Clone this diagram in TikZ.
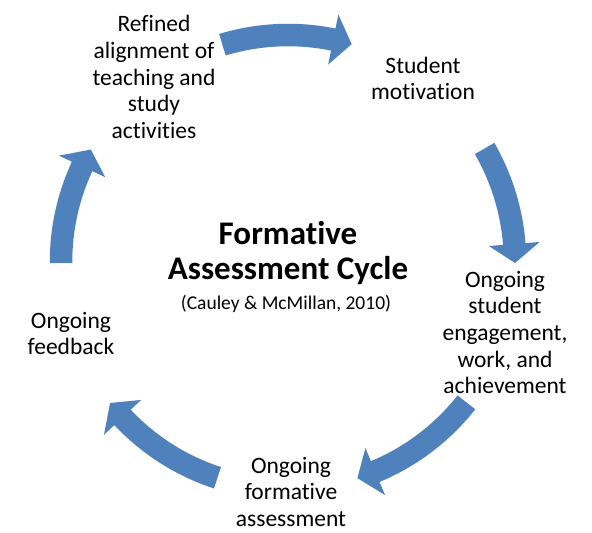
\documentclass[tikz,border=0pt]{standalone}
\usepackage{fontspec}
\setmainfont[Ligatures=NoCommon]{Carlito}
\usetikzlibrary{calc}
\definecolor{arrowblue}{HTML}{4F81BD}
\tikzset{
  lbl/.style={align=center, inner sep=0pt, font=\fontsize{23.5}{26.7}\selectfont, text=black},
  titlebig/.style={anchor=base, inner sep=0pt, font=\fontsize{33}{36}\selectfont\bfseries},
  citestyle/.style={anchor=base, inner sep=0pt, font=\fontsize{19.5}{23}\selectfont},
  blockarrow/.style={fill=arrowblue, draw=none}
}
% #1 tail angle, #2 tip angle (clockwise, tail > tip)
\newcommand\cycarrow[2]{%
  \fill[blockarrow] (#1:238.25) arc[start angle=#1, end angle={#2+4.8}, radius=238.25]
    -- ({#2+4.8}:252.5) -- (#2:227) -- ({#2+4.8}:201.5) -- ({#2+4.8}:215.75)
    arc[start angle={#2+4.8}, end angle=#1, radius=215.75] -- cycle;}
\begin{document}
\begin{tikzpicture}[x=1pt,y=1pt]
\path[use as bounding box, fill=white] (0,0) rectangle (592,533);
\coordinate (C) at (288,271);
\begin{scope}[shift={(C)}]
  \cycarrow{106.8}{73.7}
  \cycarrow{30}{-0.25}
  \cycarrow{-38.2}{-72.2}
  \cycarrow{-108.1}{-141.6}
  \cycarrow{180.3}{150.3}
\end{scope}
\node[lbl] (refined) at (154,456) {Refined\\alignment of\\teaching and\\study\\activities};
\node[lbl] (motivation) at (423,454.5) {Student\\motivation};
\node[lbl] (engagement) at (505,200.4) {Ongoing\\student\\engagement,\\work, and\\achievement};
\node[lbl] (formative) at (291,41) {Ongoing\\formative\\assessment};
\node[lbl] (feedback) at (71,199.5) {Ongoing\\feedback};
\node[titlebig] (title1) at (288,288.7) {Formative};
\node[titlebig] (title2) at (288,253) {Assessment Cycle};
\node[citestyle] (cite) at (286,223) {(Cauley \& McMillan, 2010)};
\end{tikzpicture}
\end{document}
